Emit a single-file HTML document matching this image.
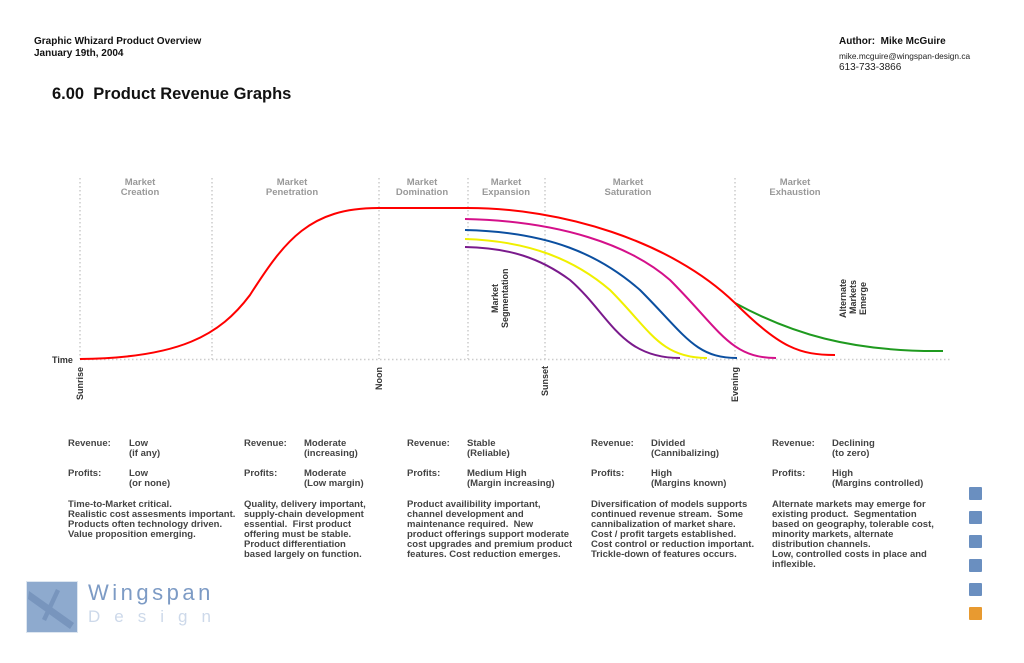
<!DOCTYPE html>
<html><head><style>
body{margin:0;width:1024px;height:663px;background:#fff;font-family:"Liberation Sans",Arial,sans-serif;position:relative;overflow:hidden}
.a{position:absolute;white-space:nowrap}
.t{font-size:9.5px;font-weight:bold;color:#444;line-height:10px}
</style></head><body>
<div class="a" style="left:34px;top:36px;font-size:10px;font-weight:bold;line-height:12px;color:#111">Graphic Whizard Product Overview<br>January 19th, 2004</div>
<div class="a" style="left:839px;top:36px;font-size:10px;font-weight:bold;color:#111">Author:&nbsp; Mike McGuire</div>
<div class="a" style="left:839px;top:51px;font-size:8.3px;color:#222">mike.mcguire@wingspan-design.ca</div>
<div class="a" style="left:839px;top:62px;font-size:10px;color:#222">613-733-3866</div>
<div class="a" style="left:52px;top:85px;font-size:16.5px;font-weight:bold;color:#111">6.00&nbsp; Product Revenue Graphs</div>

<svg class="a" style="left:0;top:0" width="1024" height="420">
<g stroke="#ccc" stroke-width="1.5" stroke-dasharray="1.5,2.5" fill="none">
<line x1="80" y1="178" x2="80" y2="359"/><line x1="212" y1="178" x2="212" y2="359"/>
<line x1="379" y1="178" x2="379" y2="359"/><line x1="468" y1="178" x2="468" y2="359"/>
<line x1="545" y1="178" x2="545" y2="359"/><line x1="735" y1="178" x2="735" y2="359"/>
<line x1="80" y1="359.5" x2="950" y2="359.5"/>
</g>
<g font-size="9.5" font-weight="bold" fill="#999" text-anchor="middle">
<text x="140" y="185">Market</text><text x="140" y="195">Creation</text>
<text x="292" y="185">Market</text><text x="292" y="195">Penetration</text>
<text x="422" y="185">Market</text><text x="422" y="195">Domination</text>
<text x="506" y="185">Market</text><text x="506" y="195">Expansion</text>
<text x="628" y="185">Market</text><text x="628" y="195">Saturation</text>
<text x="795" y="185">Market</text><text x="795" y="195">Exhaustion</text>
</g>
<g font-size="9" font-weight="bold" fill="#333">
<text x="52" y="363">Time</text>
<text transform="translate(83,400) rotate(-90)">Sunrise</text>
<text transform="translate(382,390) rotate(-90)">Noon</text>
<text transform="translate(548,396) rotate(-90)">Sunset</text>
<text transform="translate(738,402) rotate(-90)">Evening</text>
<text transform="translate(498,313) rotate(-90)">Market</text>
<text transform="translate(508,328) rotate(-90)">Segmentation</text>
<text transform="translate(846,318) rotate(-90)">Alternate</text>
<text transform="translate(856,314) rotate(-90)">Markets</text>
<text transform="translate(866,315) rotate(-90)">Emerge</text>
</g>
<g fill="none" stroke-width="2">
<path stroke="#1f9a1f" d="M735,303 C790,333 850,352 943,351"/>
<path stroke="#7a1a8c" d="M465,247 C510,248 540,258 570,280 C610,315 620,358 680,358"/>
<path stroke="#f0f000" d="M465,239 C530,241 575,260 610,290 C650,330 660,358 707,358"/>
<path stroke="#0b4fa0" d="M465,230 C550,232 600,255 640,290 C685,335 695,358 737,358"/>
<path stroke="#d4108a" d="M465,219 C560,221 630,245 670,280 C720,330 730,358 776,358"/>
<path stroke="#ff0000" d="M80,359 C180,358 220,335 250,295 C285,240 310,208 378,208 L468,208 C560,208 670,240 735,303 C780,348 800,355 835,355"/>
</g>
</svg>

<div class="a t" style="left:68px;top:439px">Revenue:</div><div class="a t" style="left:129px;top:439px">Low<br>(if any)</div>
<div class="a t" style="left:68px;top:469px">Profits:</div><div class="a t" style="left:129px;top:469px">Low<br>(or none)</div>
<div class="a t" style="left:68px;top:500px">Time-to-Market critical.<br>Realistic cost assesments important.<br>Products often technology driven.<br>Value proposition emerging.</div>

<div class="a t" style="left:244px;top:439px">Revenue:</div><div class="a t" style="left:304px;top:439px">Moderate<br>(increasing)</div>
<div class="a t" style="left:244px;top:469px">Profits:</div><div class="a t" style="left:304px;top:469px">Moderate<br>(Low margin)</div>
<div class="a t" style="left:244px;top:500px">Quality, delivery important,<br>supply-chain development<br>essential.&nbsp; First product<br>offering must be stable.<br>Product differentiation<br>based largely on function.</div>

<div class="a t" style="left:407px;top:439px">Revenue:</div><div class="a t" style="left:467px;top:439px">Stable<br>(Reliable)</div>
<div class="a t" style="left:407px;top:469px">Profits:</div><div class="a t" style="left:467px;top:469px">Medium High<br>(Margin increasing)</div>
<div class="a t" style="left:407px;top:500px">Product availibility important,<br>channel development and<br>maintenance required.&nbsp; New<br>product offerings support moderate<br>cost upgrades and premium product<br>features. Cost reduction emerges.</div>

<div class="a t" style="left:591px;top:439px">Revenue:</div><div class="a t" style="left:651px;top:439px">Divided<br>(Cannibalizing)</div>
<div class="a t" style="left:591px;top:469px">Profits:</div><div class="a t" style="left:651px;top:469px">High<br>(Margins known)</div>
<div class="a t" style="left:591px;top:500px">Diversification of models supports<br>continued revenue stream.&nbsp; Some<br>cannibalization of market share.<br>Cost / profit targets established.<br>Cost control or reduction important.<br>Trickle-down of features occurs.</div>

<div class="a t" style="left:772px;top:439px">Revenue:</div><div class="a t" style="left:832px;top:439px">Declining<br>(to zero)</div>
<div class="a t" style="left:772px;top:469px">Profits:</div><div class="a t" style="left:832px;top:469px">High<br>(Margins controlled)</div>
<div class="a t" style="left:772px;top:500px">Alternate markets may emerge for<br>existing product.&nbsp; Segmentation<br>based on geography, tolerable cost,<br>minority markets, alternate<br>distribution channels.<br>Low, controlled costs in place and<br>inflexible.</div>

<div class="a" style="left:969px;top:487px;width:13px;height:13px;background:#6a8fc0;border-radius:1px"></div>
<div class="a" style="left:969px;top:511px;width:13px;height:13px;background:#6a8fc0;border-radius:1px"></div>
<div class="a" style="left:969px;top:535px;width:13px;height:13px;background:#6a8fc0;border-radius:1px"></div>
<div class="a" style="left:969px;top:559px;width:13px;height:13px;background:#6a8fc0;border-radius:1px"></div>
<div class="a" style="left:969px;top:583px;width:13px;height:13px;background:#6a8fc0;border-radius:1px"></div>
<div class="a" style="left:969px;top:607px;width:13px;height:13px;background:#e89a30;border-radius:1px"></div>

<svg class="a" style="left:26px;top:581px" width="52" height="52">
<rect x="0.5" y="0.5" width="51" height="51" fill="#8eaace" stroke="#dde6f0"/>
<path d="M3,10 L48,42 L44,48 L2,18Z" fill="#7895bd"/>
<path d="M34,10 L20,40 L16,38 L30,8Z" fill="#7895bd"/>
</svg>
<div class="a" style="left:88px;top:580px;font-size:22px;letter-spacing:3.5px;color:#7d9bc5">Wingspan</div>
<div class="a" style="left:88px;top:607px;font-size:17px;letter-spacing:14px;color:#cdd9ea">Design</div>
</body></html>
